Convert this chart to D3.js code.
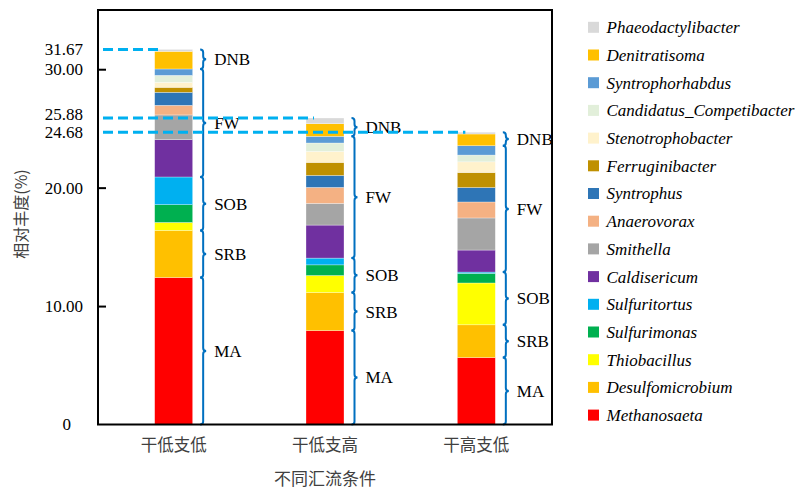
<!DOCTYPE html>
<html>
<head>
<meta charset="utf-8">
<script src="https://cdn.jsdelivr.net/npm/d3@7"></script>
<style>
  body { margin: 0; background: #fff; }
  svg { display: block; }
</style>
</head>
<body>
<script>
// conditions on the x axis
const categories = ['干低支低', '干低支高', '干高支低'];

// genera, stacked bottom to top
const genera = ['Methanosaeta', 'Desulfomicrobium', 'Thiobacillus', 'Sulfurimonas', 'Sulfuritortus',
    'Caldisericum', 'Smithella', 'Anaerovorax', 'Syntrophus', 'Ferruginibacter',
    'Stenotrophobacter', 'Candidatus_Competibacter', 'Syntrophorhabdus', 'Denitratisoma', 'Phaeodactylibacter'];
const colors = ['#FF0000', '#FFC000', '#FFFF00', '#00B050', '#00B0F0',
    '#7030A0', '#A5A5A5', '#F4B183', '#2E75B6', '#BF9000',
    '#FFF2CC', '#E2EFDA', '#5B9BD5', '#FFC000', '#D9D9D9'];

// relative abundance (%) per condition, same order as genera
const lowLow = [12.41, 3.97, 0.68, 1.50, 2.34, 3.15, 2.09, 0.81, 1.10, 0.42, 0.42, 0.59, 0.54, 1.49, 0.16];
const lowHigh = [7.93, 3.21, 1.44, 0.90, 0.57, 2.79, 1.83, 1.35, 1.01, 1.10, 0.93, 0.71, 0.56, 1.07, 0.48];
const highLow = [5.65, 2.77, 3.53, 0.81, 0.11, 1.86, 2.71, 1.35, 1.22, 1.27, 0.90, 0.57, 0.79, 0.99, 0.15];
const seriesValues = [lowLow, lowHigh, highLow];

// functional groups: name and the index (exclusive) where each ends in the stack
const groupNames = ['MA', 'SRB', 'SOB', 'FW', 'DNB'];
const groupEnds = [1, 2, 5, 13, 15];

const yTicks = [0, 10, 20, 30];

const W = 798, H = 490;
const margin = { top: 10, right: 246, bottom: 65.5, left: 98 };
const width = W - margin.left - margin.right;
const height = H - margin.top - margin.bottom;

const svg = d3.select('body').append('svg')
    .attr('width', W)
    .attr('height', H);

const x = d3.scalePoint().domain(categories).range([0, width]).padding(0.5);
const y = d3.scaleLinear().domain([0, 35]).range([height, 0]);
const barW = 38;

const main = svg.append('g')
    .attr('transform', 'translate(' + margin.left + ',' + margin.top + ')');

// stacked data
const stacks = seriesValues.map((vals, i) => {
    let acc = 0;
    return vals.map((v, j) => {
        const s = { cat: categories[i], j: j, y0: acc, y1: acc + v };
        acc += v;
        return s;
    });
});
const totals = seriesValues.map(v => +d3.sum(v).toFixed(2));

// bars
stacks.forEach(stack => {
    main.append('g').selectAll('rect')
        .data(stack)
        .enter()
        .append('rect')
        .attr('x', d => x(d.cat) - barW / 2)
        .attr('width', barW)
        .attr('y', d => y(d.y1))
        .attr('height', d => y(d.y0) - y(d.y1))
        .attr('fill', d => colors[d.j])
        .attr('stroke', '#ffffff')
        .attr('stroke-opacity', 0.5)
        .attr('stroke-width', 0.6);
});

// braces with group labels
function bracePath(bx, y1, y2) {
    const ym = (y1 + y2) / 2;
    const r = Math.min(3, (y2 - y1) / 4);
    return 'M' + (bx - 3) + ',' + y1 +
        'Q' + bx + ',' + y1 + ' ' + bx + ',' + (y1 + r) +
        'L' + bx + ',' + (ym - r) +
        'Q' + bx + ',' + ym + ' ' + (bx + 3) + ',' + ym +
        'Q' + bx + ',' + ym + ' ' + bx + ',' + (ym + r) +
        'L' + bx + ',' + (y2 - r) +
        'Q' + bx + ',' + y2 + ' ' + (bx - 3) + ',' + y2;
}

const numFont = '"Liberation Serif", "Times New Roman", serif';

stacks.forEach((stack, i) => {
    const bx = x(categories[i]) + barW / 2 + 10.5;
    let start = 0;
    groupNames.forEach((g, k) => {
        const end = groupEnds[k];
        const v0 = stack[start].y0;
        const v1 = stack[end - 1].y1;
        const y1 = y(v1), y2 = y(v0);
        main.append('path')
            .attr('d', bracePath(bx, y1, y2))
            .attr('fill', 'none')
            .attr('stroke', '#0070C0')
            .attr('stroke-width', 2);
        main.append('text')
            .attr('x', bx + 11)
            .attr('y', (y1 + y2) / 2)
            .attr('dy', '0.35em')
            .attr('font-family', numFont)
            .attr('font-size', 17)
            .attr('fill', '#000')
            .text(g);
        start = end;
    });
});

// dashed total lines
main.append('g').selectAll('line')
    .data(totals)
    .enter()
    .append('line')
    .attr('x1', 5)
    .attr('x2', (d, i) => x(categories[i]) - barW / 2 + 8)
    .attr('y1', d => y(d))
    .attr('y2', d => y(d))
    .attr('stroke', '#00B0F0')
    .attr('stroke-width', 3)
    .attr('stroke-dasharray', '10,5');

// axes
const yAxis = d3.axisLeft(y).tickValues([10, 20, 30]).tickSize(-8).tickSizeOuter(0).tickFormat('');
const yg = main.append('g').call(yAxis);
yg.select('.domain').remove();
yg.selectAll('.tick line').attr('stroke', '#000').attr('stroke-width', 2)
    .attr('x1', 1);

main.append('rect')
    .attr('x', 0)
    .attr('y', 0)
    .attr('width', width)
    .attr('height', height)
    .attr('fill', 'none')
    .attr('stroke', '#000')
    .attr('stroke-width', 2);

main.append('g').selectAll('text')
    .data(yTicks)
    .enter()
    .append('text')
    .attr('x', d => d === 0 ? -27 : -15)
    .attr('y', d => y(d))
    .attr('dy', '0.35em')
    .attr('text-anchor', 'end')
    .attr('font-family', numFont)
    .attr('font-size', 17)
    .attr('fill', '#000')
    .text(d => d === 0 ? '0' : d3.format('.2f')(d));

main.append('g').selectAll('text')
    .data(totals)
    .enter()
    .append('text')
    .attr('x', -15)
    .attr('y', (d, i) => y(d) + (i === 1 ? -4 : 0))
    .attr('dy', '0.35em')
    .attr('text-anchor', 'end')
    .attr('font-family', numFont)
    .attr('font-size', 17)
    .attr('fill', '#000')
    .text(d => d3.format('.2f')(d));

const cjkFont = '"Noto Sans CJK SC", sans-serif';
main.append('g').selectAll('text')
    .data(categories)
    .enter()
    .append('text')
    .attr('x', d => x(d))
    .attr('y', height + 21)
    .attr('dy', '0.35em')
    .attr('text-anchor', 'middle')
    .attr('font-family', cjkFont)
    .attr('font-size', 16.5)
    .attr('fill', '#404040')
    .text(d => d);

svg.append('text')
    .attr('x', margin.left + width / 2)
    .attr('y', 479)
    .attr('dy', '0.35em')
    .attr('text-anchor', 'middle')
    .attr('font-family', cjkFont)
    .attr('font-size', 17)
    .attr('fill', '#404040')
    .text('不同汇流条件');

svg.append('text')
    .attr('transform', 'translate(21,214) rotate(-90)')
    .attr('dy', '0.35em')
    .attr('text-anchor', 'middle')
    .attr('font-family', cjkFont)
    .attr('font-size', 16)
    .attr('fill', '#404040')
    .text('相对丰度(%)');

// legend, top to bottom = reverse stack order
const legendItems = genera.map((g, j) => ({ name: g, color: colors[j] })).reverse();
const legend = svg.append('g').attr('transform', 'translate(588,27.3)');
const li = legend.selectAll('g')
    .data(legendItems)
    .enter()
    .append('g')
    .attr('transform', (d, i) => 'translate(0,' + (i * 27.7) + ')');
li.append('rect')
    .attr('x', 0)
    .attr('y', -5.5)
    .attr('width', 11)
    .attr('height', 11)
    .attr('fill', d => d.color);
li.append('text')
    .attr('x', 18.5)
    .attr('y', 0)
    .attr('dy', '0.35em')
    .attr('font-family', numFont)
    .attr('font-style', 'italic')
    .attr('font-size', 17)
    .attr('fill', '#000')
    .text(d => d.name);
</script>
</body>
</html>
